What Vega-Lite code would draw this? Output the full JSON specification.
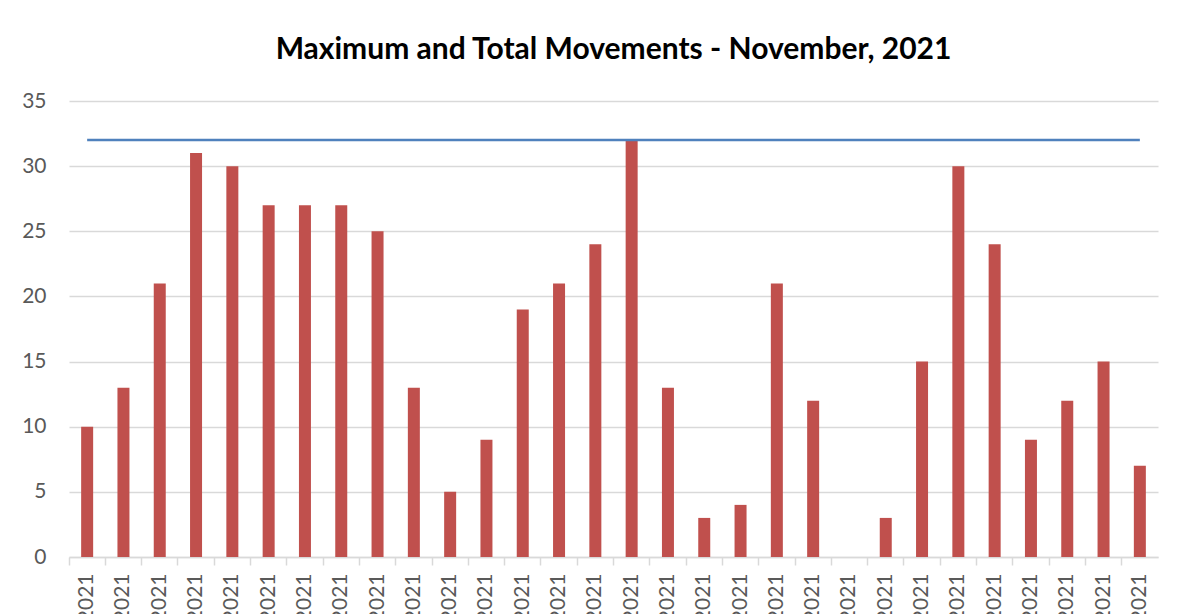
{
  "$schema": "https://vega.github.io/schema/vega-lite/v6.json",
  "autosize": "none",
  "width": 1089,
  "height": 456,
  "padding": {"left": 69, "top": 101, "right": 24, "bottom": 57},
  "background": "white",
  "title": {
    "text": "Maximum and Total Movements  - November, 2021",
    "font": "Lato",
    "fontSize": 30,
    "fontWeight": "bold",
    "color": "#000000",
    "anchor": "middle",
    "offset": 25
  },
  "data": {
    "values": [
      {"date": "11/1/2021", "total": 10, "max": 32},
      {"date": "11/2/2021", "total": 13, "max": 32},
      {"date": "11/3/2021", "total": 21, "max": 32},
      {"date": "11/4/2021", "total": 31, "max": 32},
      {"date": "11/5/2021", "total": 30, "max": 32},
      {"date": "11/6/2021", "total": 27, "max": 32},
      {"date": "11/7/2021", "total": 27, "max": 32},
      {"date": "11/8/2021", "total": 27, "max": 32},
      {"date": "11/9/2021", "total": 25, "max": 32},
      {"date": "11/10/2021", "total": 13, "max": 32},
      {"date": "11/11/2021", "total": 5, "max": 32},
      {"date": "11/12/2021", "total": 9, "max": 32},
      {"date": "11/13/2021", "total": 19, "max": 32},
      {"date": "11/14/2021", "total": 21, "max": 32},
      {"date": "11/15/2021", "total": 24, "max": 32},
      {"date": "11/16/2021", "total": 32, "max": 32},
      {"date": "11/17/2021", "total": 13, "max": 32},
      {"date": "11/18/2021", "total": 3, "max": 32},
      {"date": "11/19/2021", "total": 4, "max": 32},
      {"date": "11/20/2021", "total": 21, "max": 32},
      {"date": "11/21/2021", "total": 12, "max": 32},
      {"date": "11/22/2021", "total": 0, "max": 32},
      {"date": "11/23/2021", "total": 3, "max": 32},
      {"date": "11/24/2021", "total": 15, "max": 32},
      {"date": "11/25/2021", "total": 30, "max": 32},
      {"date": "11/26/2021", "total": 24, "max": 32},
      {"date": "11/27/2021", "total": 9, "max": 32},
      {"date": "11/28/2021", "total": 12, "max": 32},
      {"date": "11/29/2021", "total": 15, "max": 32},
      {"date": "11/30/2021", "total": 7, "max": 32}
    ]
  },
  "encoding": {
    "x": {
      "field": "date",
      "type": "ordinal",
      "sort": null,
      "scale": {"paddingInner": 0, "paddingOuter": 0},
      "axis": {
        "title": null,
        "labelAngle": -90,
        "labelFont": "Lato",
        "labelFontSize": 21,
        "labelColor": "#595959",
        "labelPadding": 8,
        "labelOverlap": false,
        "bandPosition": 0,
        "ticks": true,
        "tickColor": "#d9d9d9",
        "tickSize": 8,
        "tickWidth": 1.5,
        "domainColor": "#d9d9d9",
        "domainWidth": 1.5,
        "grid": false
      }
    }
  },
  "layer": [
    {
      "mark": {"type": "bar", "color": "#c0504d", "size": 12},
      "encoding": {
        "y": {
          "field": "total",
          "type": "quantitative",
          "scale": {"domain": [0, 35], "nice": false},
          "axis": {
            "title": null,
            "values": [0, 5, 10, 15, 20, 25, 30, 35],
            "domain": false,
            "ticks": false,
            "labelFont": "Lato",
            "labelFontSize": 21,
            "labelColor": "#595959",
            "labelPadding": 23,
            "gridColor": "#d9d9d9",
            "gridWidth": 1.5
          }
        }
      }
    },
    {
      "mark": {"type": "line", "color": "#4f81bd", "strokeWidth": 2.5},
      "encoding": {
        "y": {"field": "max", "type": "quantitative"}
      }
    }
  ],
  "config": {"view": {"stroke": null}}
}
